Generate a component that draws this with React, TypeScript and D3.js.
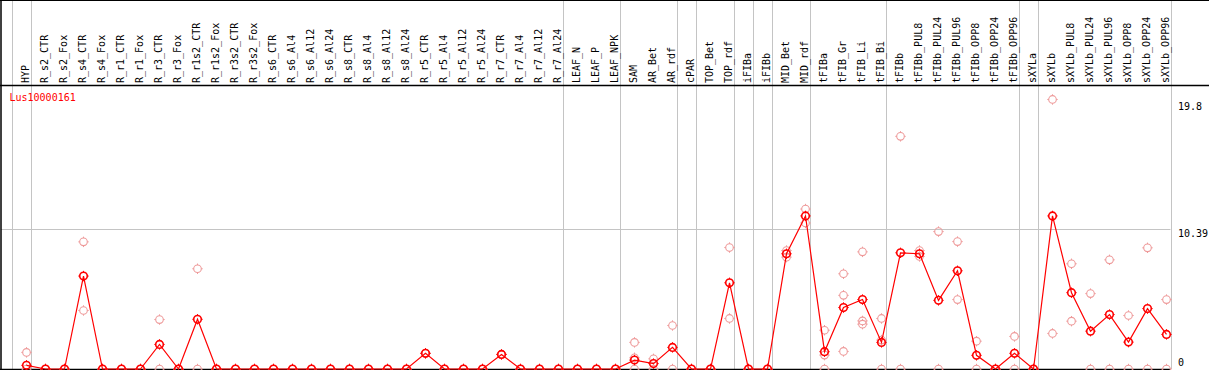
import React from "react";
import * as d3 from "d3";

const categories = [
  "HYP", "R_s2_CTR", "R_s2_Fox", "R_s4_CTR", "R_s4_Fox", "R_r1_CTR", "R_r1_Fox", "R_r3_CTR", "R_r3_Fox",
  "R_r1s2_CTR", "R_r1s2_Fox", "R_r3s2_CTR", "R_r3s2_Fox", "R_s6_CTR", "R_s6_Al4", "R_s6_Al12", "R_s6_Al24",
  "R_s8_CTR", "R_s8_Al4", "R_s8_Al12", "R_s8_Al24", "R_r5_CTR", "R_r5_Al4", "R_r5_Al12", "R_r5_Al24",
  "R_r7_CTR", "R_r7_Al4", "R_r7_Al12", "R_r7_Al24", "LEAF_N", "LEAF_P", "LEAF_NPK", "SAM", "AR_Bet", "AR_rdf",
  "cPAR", "TOP_Bet", "TOP_rdf", "iFIBa", "iFIBb", "MID_Bet", "MID_rdf", "tFIBa", "tFIB_Gr", "tFIB_Li", "tFIB_Bi",
  "tFIBb", "tFIBb_PUL8", "tFIBb_PUL24", "tFIBb_PUL96", "tFIBb_OPP8", "tFIBb_OPP24", "tFIBb_OPP96",
  "sXYLa", "sXYLb", "sXYLb_PUL8", "sXYLb_PUL24", "sXYLb_PUL96", "sXYLb_OPP8", "sXYLb_OPP24", "sXYLb_OPP96",
];

// sizes of the sample groups separated by grey vertical lines
const groupSizes = [1, 28, 3, 3, 1, 2, 1, 1, 2, 4, 7, 1, 7];

const meanValues = [
  0.27, 0, 0, 6.88, 0, 0, 0, 1.82, 0, 3.68,
  0, 0, 0, 0, 0, 0, 0, 0, 0, 0,
  0, 1.16, 0, 0, 0, 1.08, 0, 0, 0, 0,
  0, 0, 0.66, 0.4, 1.6, 0, 0, 6.38, 0, 0,
  8.53, 11.33, 1.28, 4.55, 5.14, 1.97, 8.6, 8.53, 5.08, 7.27,
  1.01, 0, 1.16, 0, 11.33, 5.65, 2.8, 4.03, 1.99, 4.47,
  2.56,
];

const replicate1 = [
  1.23, 0, 0, 9.41, 0, 0, 0, 3.66, 0, 7.42,
  0, 0, 0, 0, 0, 0, 0, 0, 0, 0,
  0, 1.16, 0, 0, 0, 1.08, 0, 0, 0, 0,
  0, 0, 1.97, 0.75, 3.22, 0, 0, 8.99, 0, 0,
  8.77, 11.84, 2.87, 7.05, 8.67, 3.74, 17.22, 8.77, 10.17, 9.43,
  2.06, 0, 2.41, 0, 19.95, 7.79, 5.58, 8.08, 3.96, 8.97,
  5.14,
];

const replicate2 = [
  0, 0, 0, 4.33, 0, 0, 0, 0, 0, 0,
  0, 0, 0, 0, 0, 0, 0, 0, 0, 0,
  0, 1.16, 0, 0, 0, 1.08, 0, 0, 0, 0,
  0, 0, 0.83, 0, 0, 0, 0, 3.74, 0, 0,
  8.28, 10.81, 1.03, 5.45, 3.56, 2.14, 0, 8.33, 0, 5.14,
  0, 0, 0, 0, 2.63, 3.54, 0, 0, 0, 0,
  0,
];

const replicate3: (number | null)[] = [
  null, null, null, null, null, null, null, null, null, null,
  null, null, null, null, null, null, null, null, null, null,
  null, null, null, null, null, null, null, null, null, null,
  null, null, 0, null, null, null, null, null, null, null,
  null, null, 0, 1.3, 3.32, 0, null, null, null, null,
  null, null, null, null, null, null, null, null, null, null,
  null,
];

const yTicks = [0, 10.39, 19.8];
const gridTicks = [10.39];
const title = "Lus10000161";

const W = 1209;
const H = 370;
const plotLeft = 1;
const plotRight = 1170.5;
const plotTop = 85;
const plotBottom = 369;

export default function App() {
  const x = d3.scalePoint<string>().domain(categories).range([26.5, 1166.5]);
  const step = x.step();
  const y = d3.scaleLinear().domain([0, 19.8]).range([plotBottom, 101.5]);

  const boundaries: number[] = [-1];
  let acc = -1;
  for (const s of groupSizes) {
    acc += s;
    boundaries.push(acc);
  }
  const bx = (i: number) => (x(categories[0]) as number) + i * step + 4;

  const line = d3
    .line<number>()
    .x((_, i) => x(categories[i]) as number)
    .y((d) => y(d));

  const reps: { i: number; v: number }[] = [];
  [replicate1, replicate2, replicate3].forEach((arr) =>
    arr.forEach((v, i) => {
      if (v !== null && v !== undefined) reps.push({ i, v });
    })
  );

  const mono = "'DejaVu Sans Mono', monospace";

  const marker = (cx: number, cy: number, color: string, sw: number, key: string) => (
    <g key={key}>
      <circle cx={cx} cy={cy} r={3.8} fill="none" stroke={color} strokeWidth={sw} />
      <line x1={cx} x2={cx} y1={cy - 5.2} y2={cy - 3.8} stroke={color} strokeWidth={1} />
      <line x1={cx} x2={cx} y1={cy + 3.8} y2={cy + 5.2} stroke={color} strokeWidth={1} />
      <line x1={cx - 5.2} x2={cx - 3.8} y1={cy} y2={cy} stroke={color} strokeWidth={1} />
      <line x1={cx + 3.8} x2={cx + 5.2} y1={cy} y2={cy} stroke={color} strokeWidth={1} />
    </g>
  );

  return (
    <svg
      width={W}
      height={H}
      style={{ position: "fixed", left: 0, top: 0, background: "#fff", display: "block" }}
    >
      <rect x={0} y={0} width={W} height={H} fill="#fff" />
      {/* grey group separators */}
      {boundaries.map((b) => (
        <line
          key={"b" + b}
          x1={Math.round(bx(b)) + 0.5}
          x2={Math.round(bx(b)) + 0.5}
          y1={0}
          y2={plotBottom}
          stroke="#c4c4c4"
          strokeWidth={1}
        />
      ))}
      {/* horizontal grid */}
      {gridTicks.map((t) => (
        <line
          key={"g" + t}
          x1={plotLeft}
          x2={plotRight}
          y1={Math.round(y(t)) + 0.5}
          y2={Math.round(y(t)) + 0.5}
          stroke="#c4c4c4"
          strokeWidth={1}
        />
      ))}
      {/* frame */}
      <line x1={0} x2={W} y1={0.5} y2={0.5} stroke="#000" strokeWidth={1} />
      <line x1={0} x2={W} y1={plotTop + 0.5} y2={plotTop + 0.5} stroke="#000" strokeWidth={1.5} />
      <line x1={1} x2={1} y1={0} y2={H} stroke="#000" strokeWidth={1.5} />
      <line x1={0} x2={plotRight} y1={plotBottom + 0.5} y2={plotBottom + 0.5} stroke="#000" strokeWidth={1.5} />

      {/* category labels */}
      {categories.map((c) => (
        <text
          key={"l" + c}
          transform={`translate(${(x(c) as number) + 2},83) rotate(-90)`}
          textAnchor="start"
          fontFamily={mono}
          fontSize={10}
          fill="#000"
        >
          {c}
        </text>
      ))}

      {/* replicates */}
      {reps.map((r, k) => marker(x(categories[r.i]) as number, y(r.v), "#ee9a9a", 1.1, "r" + k))}

      {/* mean line */}
      <path d={line(meanValues) || ""} fill="none" stroke="#ff0000" strokeWidth={1.2} />
      {meanValues.map((v, i) => marker(x(categories[i]) as number, y(v), "#ff0000", 1.6, "m" + i))}

      {/* title */}
      <text x={9.5} y={100.5} fontFamily={mono} fontSize={10} fill="#ff0000">
        {title}
      </text>

      {/* right axis labels */}
      {yTicks.map((t) => (
        <text
          key={"t" + t}
          x={1178}
          y={Math.min(y(t) + 8, 365.5)}
          fontFamily={mono}
          fontSize={10}
          fill="#000"
        >
          {String(t)}
        </text>
      ))}
    </svg>
  );
}
